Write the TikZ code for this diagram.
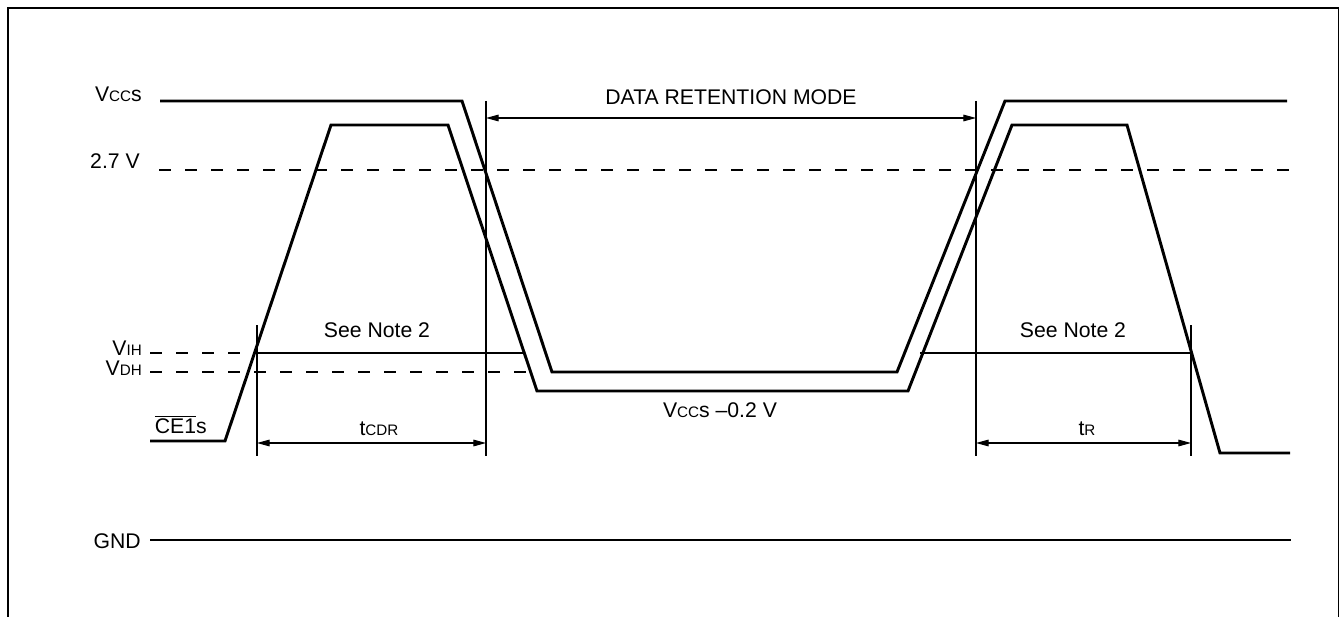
\documentclass[tikz,border=0pt]{standalone}
\usepackage{fontspec}
\setmainfont{Liberation Sans}
\usetikzlibrary{arrows.meta}
\newcommand{\smtxt}[1]{{\fontsize{11.4}{13}\selectfont #1}}

\begin{document}
\begin{tikzpicture}[x=0.75pt,y=0.75pt,yscale=-1,xscale=1,
  font=\fontsize{15.9}{18}\selectfont,
  wave/.style={line width=2.2pt, line join=miter},
  level/.style={line width=2.2pt, dash pattern=on 9pt off 10.5pt},
  guide/.style={line width=0.8pt},
  span/.style={line width=0.8pt, {Triangle[length=9.5pt,width=5pt]}-{Triangle[length=9.5pt,width=5pt]}},
  lbl/.style={inner sep=0pt}]
\useasboundingbox (0,0) rectangle (1340,617);

%Frame
\draw [line width=2pt] (8,617) -- (8,8) -- (1338.5,8) ;
\draw [line width=1.3pt] (1338.5,8) -- (1338.5,617) ;

%Timing marks
\coordinate (cdrL) at (257,443) ;
\coordinate (cdrR) at (486,443) ;
\coordinate (drmL) at (486,118) ;
\coordinate (drmR) at (976,118) ;
\coordinate (rL) at (976,443) ;
\coordinate (rR) at (1191,443) ;

%Straight Lines: guides
\draw [guide] (257,325) -- (257,456) ;
\draw [guide] (486,101) -- (486,456) ;
\draw [guide] (976,101) -- (976,456) ;
\draw [guide] (1191,325) -- (1191,456) ;

%Levels
\draw [level] (159,170) -- (1292,170) ;
\draw [level] (150,353) -- (257,353) ;
\draw [level] (150,372) -- (535,372) ;
\draw [wave] (257,353) -- (525,353) ;
\draw [wave] (920,353) -- (1192,353) ;
\draw [wave] (150,540) -- (1291,540) ;

%Vccs
\draw [wave] (160,101) -- (462,101) -- (552,372) -- (897,372) -- (1005,101) -- (1287,101) ;
%CE1s
\draw [wave] (150,441) -- (225,441) -- (331,125) -- (448,125) -- (537,391) -- (908,391) -- (1012,125) -- (1127,125) -- (1220,453) -- (1290,453) ;

%Dimension arrows
\draw [span] (drmL) -- (drmR) ;
\draw [span] (cdrL) -- (cdrR) ;
\draw [span] (rL) -- (rR) ;

% Text Node
\node [lbl, anchor=base east] (vccs) at (142,102) {V\smtxt{CC}s};
\node [lbl, anchor=base east] (v27) at (140,169) {2.7 V};
\node [lbl, anchor=base east] (vih) at (142,355) {V\smtxt{IH}};
\node [lbl, anchor=base east] (vdh) at (142,375) {V\smtxt{DH}};
\node [lbl, anchor=base east] (ce) at (207,433) {$\overline{\mbox{CE1}}$s};
\node [lbl, anchor=base east] (gnd) at (141,548) {GND};
\node [lbl, anchor=base] (drm) at (731,105) {DATA RETENTION MODE};
\node [lbl, anchor=base] (noteL) at (377,337) {See Note 2};
\node [lbl, anchor=base] (noteR) at (1073,337) {See Note 2};
\node [lbl, anchor=base] (tcdr) at (379,435) {t\smtxt{CDR}};
\node [lbl, anchor=base] (tr) at (1087,435) {t\smtxt{R}};
\node [lbl, anchor=base] (vret) at (720,417) {V\smtxt{CC}s –0.2 V};

\end{tikzpicture}
\end{document}
